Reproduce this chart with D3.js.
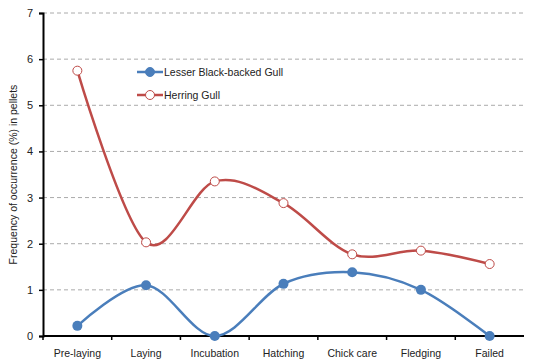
<!DOCTYPE html>
<html><head><meta charset="utf-8">
<script src="https://cdn.jsdelivr.net/npm/d3@7"></script>
<style>body{margin:0;background:#fff}svg{display:block}text{font-family:"Liberation Sans",Arial,sans-serif}</style>
</head><body><svg id="c" width="534" height="363"></svg>
<script>
const categories = ["Pre-laying","Laying","Incubation","Hatching","Chick care","Fledging","Failed"];
const lesserBlackBacked = [0.22,1.1,0,1.13,1.38,1.0,0];
const herringGull = [5.75,2.03,3.35,2.88,1.77,1.85,1.56];
const yTicks = [0,1,2,3,4,5,6,7];
const seriesNames = ["Lesser Black-backed Gull","Herring Gull"];

const svg = d3.select("#c");
const L = 43, R = 524, T = 13, B = 336;
const x = d3.scaleBand().domain(categories).range([L, R]);
const y = d3.scaleLinear().domain([0,7]).range([B, T]);

// gridlines
svg.append("g").selectAll("line").data(yTicks.filter(d=>d>0)).join("line")
  .attr("x1", L).attr("x2", R).attr("y1", d=>y(d)).attr("y2", d=>y(d))
  .attr("stroke", "#aaa").attr("stroke-width", 1).attr("stroke-dasharray", "4,3");

// y axis
const ya = svg.append("g").attr("transform", `translate(${L},0)`)
  .call(d3.axisLeft(y).tickValues(yTicks).tickSize(4).tickPadding(6).tickFormat(d3.format("d")));
ya.select(".domain").attr("stroke","#000").attr("stroke-width",2);
ya.selectAll(".tick line").attr("stroke","#000").attr("stroke-width",1.5);
ya.selectAll("text").attr("font-size", 11).attr("fill","#222");

// x axis
const xa = svg.append("g").attr("transform", `translate(0,${B})`)
  .call(d3.axisBottom(x).tickSize(0).tickPadding(14));
xa.select(".domain").attr("stroke","#000").attr("stroke-width",2).attr("d", `M${L},0H${R}`);
xa.selectAll("text").attr("font-size", 10.5).attr("fill","#222");
// boundary ticks
const bounds = categories.map(c=>x(c)).concat([R]);
xa.append("g").selectAll("line").data(bounds.slice(0,7)).join("line")
  .attr("x1", d=>d).attr("x2", d=>d).attr("y1",0).attr("y2",4)
  .attr("stroke","#000").attr("stroke-width",1.5);

// y label
svg.append("text").attr("transform", `translate(17,${(T+B)/2}) rotate(-90)`)
  .attr("text-anchor","middle").attr("font-size",10.5).attr("fill","#222")
  .text("Frequency of occurrence (%) in pellets");

const cx = d => x(d) + x.bandwidth()/2;
const line = d3.line().x((d,i)=>cx(categories[i])).y(d=>y(d)).curve(d3.curveCatmullRom.alpha(0));

const blue = "#4A7EBB", red = "#BE4B48";
svg.append("path").attr("d", line(herringGull)).attr("fill","none").attr("stroke",red).attr("stroke-width",2.5);
svg.append("path").attr("d", line(lesserBlackBacked)).attr("fill","none").attr("stroke",blue).attr("stroke-width",2.5);

svg.append("g").selectAll("circle").data(herringGull).join("circle")
  .attr("cx",(d,i)=>cx(categories[i])).attr("cy",d=>y(d)).attr("r",4.5)
  .attr("fill","#fff").attr("stroke",red).attr("stroke-width",1);
svg.append("g").selectAll("circle").data(lesserBlackBacked).join("circle")
  .attr("cx",(d,i)=>cx(categories[i])).attr("cy",d=>y(d)).attr("r",5)
  .attr("fill",blue);

// legend
const leg = svg.append("g");
[[blue,true,72],[red,false,95]].forEach(([c,filled,yy],i)=>{
  leg.append("line").attr("x1",137).attr("x2",163).attr("y1",yy).attr("y2",yy).attr("stroke",c).attr("stroke-width",2.5);
  leg.append("circle").attr("cx",150).attr("cy",yy).attr("r",filled?4.5:4.5)
    .attr("fill",filled?c:"#fff").attr("stroke",c).attr("stroke-width",1);
  leg.append("text").attr("x",164).attr("y",yy+4).attr("font-size",10.5).attr("fill","#222").text(seriesNames[i]);
});
</script></body></html>
